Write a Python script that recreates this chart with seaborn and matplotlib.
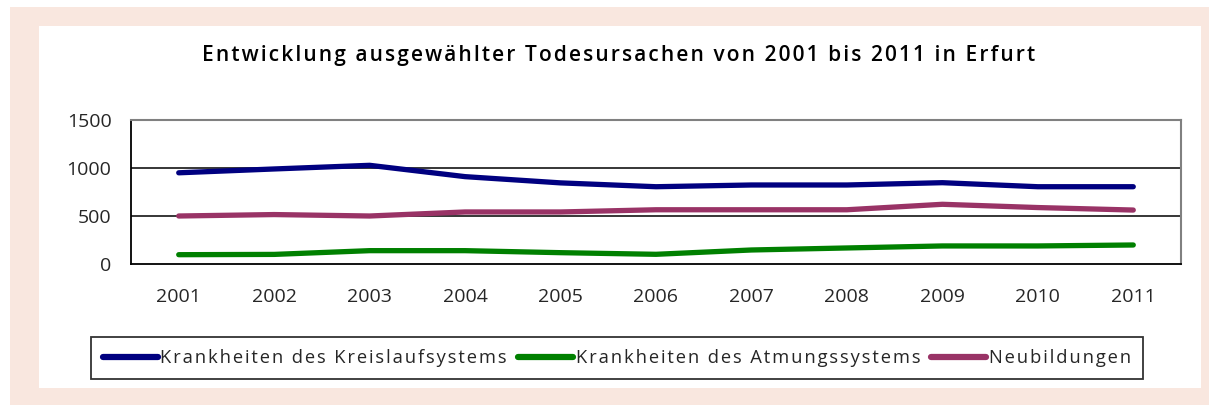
import pandas as pd
import matplotlib.pyplot as plt
import seaborn as sns
from matplotlib.patches import Rectangle
from matplotlib.ticker import FixedLocator, NullFormatter

# Data
years = ["2001", "2002", "2003", "2004", "2005", "2006", "2007", "2008", "2009", "2010", "2011"]
kreislauf = [950, 990, 1028, 910, 845, 805, 823, 823, 847, 805, 805]
atmung = [97, 100, 139, 139, 118, 101, 146, 167, 188, 188, 198]
neubildungen = [500, 515, 500, 542, 542, 565, 565, 565, 622, 588, 562]

series_names = ["Krankheiten des Kreislaufsystems", "Krankheiten des Atmungssystems", "Neubildungen"]
colors = ["#000080", "#008000", "#993366"]
title = "Entwicklung ausgewählter Todesursachen von 2001 bis 2011 in Erfurt"

df = pd.concat([
    pd.DataFrame({"Jahr": years, "Wert": kreislauf, "Serie": series_names[0]}),
    pd.DataFrame({"Jahr": years, "Wert": atmung, "Serie": series_names[1]}),
    pd.DataFrame({"Jahr": years, "Wert": neubildungen, "Serie": series_names[2]}),
])

sns.set_style("white")
plt.rcParams["font.family"] = ["Open Sans", "DejaVu Sans"]


def spaced(s):
    # imitate the wide letter spacing of the original with hair spaces
    return "\u200a".join(s)


W, H = 1209, 405
fig = plt.figure(figsize=(W / 100, H / 100), dpi=100)
fig.patch.set_facecolor("white")

# peach frame and white panel
fig.add_artist(Rectangle((10 / W, 0), 1, (H - 7) / H, transform=fig.transFigure,
                         facecolor="#F9E7DF", edgecolor="none", zorder=0))
fig.add_artist(Rectangle((39 / W, (H - 388) / H), (1201 - 39) / W, (388 - 26) / H,
                         transform=fig.transFigure, facecolor="white", edgecolor="none", zorder=0))

ax = fig.add_axes([131 / W, (H - 264) / H, (1181 - 131) / W, 144 / H])
ax.set_facecolor("none")

sns.lineplot(data=df, x="Jahr", y="Wert", hue="Serie", palette=colors, linewidth=3.8,
             ax=ax, legend=True, solid_capstyle="round", solid_joinstyle="round")

ax.set_xlim(-0.5, len(years) - 0.5)
ax.set_ylim(0, 1500)
ax.set_yticks([0, 500, 1000, 1500])
ax.set_xticks(range(len(years)))
ax.set_xticklabels(years)
ax.xaxis.set_minor_locator(FixedLocator([i - 0.5 for i in range(len(years) + 1)]))
ax.xaxis.set_minor_formatter(NullFormatter())
ax.tick_params(axis="x", which="major", length=0, pad=17, labelsize=14)
ax.tick_params(axis="x", which="minor", length=5, width=1.2, color="black", direction="out")
ax.tick_params(axis="y", length=5, width=1.2, color="black", direction="out", labelsize=14, pad=9)
ax.set_xlabel("")
ax.set_ylabel("")

for v in [500, 1000]:
    ax.axhline(v, color="black", linewidth=1.1, zorder=1)

ax.spines["left"].set_color("black")
ax.spines["bottom"].set_color("black")
ax.spines["left"].set_linewidth(1.3)
ax.spines["bottom"].set_linewidth(1.3)
ax.spines["top"].set_color("#808080")
ax.spines["right"].set_color("#808080")
ax.spines["top"].set_linewidth(1.5)
ax.spines["right"].set_linewidth(1.5)

handles, labels = ax.get_legend_handles_labels()
ax.get_legend().remove()
leg = fig.legend(handles, [spaced(l) for l in labels], loc="center",
                 bbox_to_anchor=(617 / W, (H - 358) / H),
                 ncol=3, fontsize=13.2, frameon=True, fancybox=False, handlelength=3.0,
                 handletextpad=0.15, columnspacing=0.6, borderpad=0.65)
leg.get_frame().set_edgecolor("black")
leg.get_frame().set_linewidth(1.3)
for line in leg.get_lines():
    line.set_linewidth(4.5)
    line.set_solid_capstyle("round")

fig.text(619 / W, (H - 55) / H, spaced(title), ha="center", va="center", fontsize=15,
         fontweight="semibold", color="black")

fig.savefig("out.png", dpi=100)
